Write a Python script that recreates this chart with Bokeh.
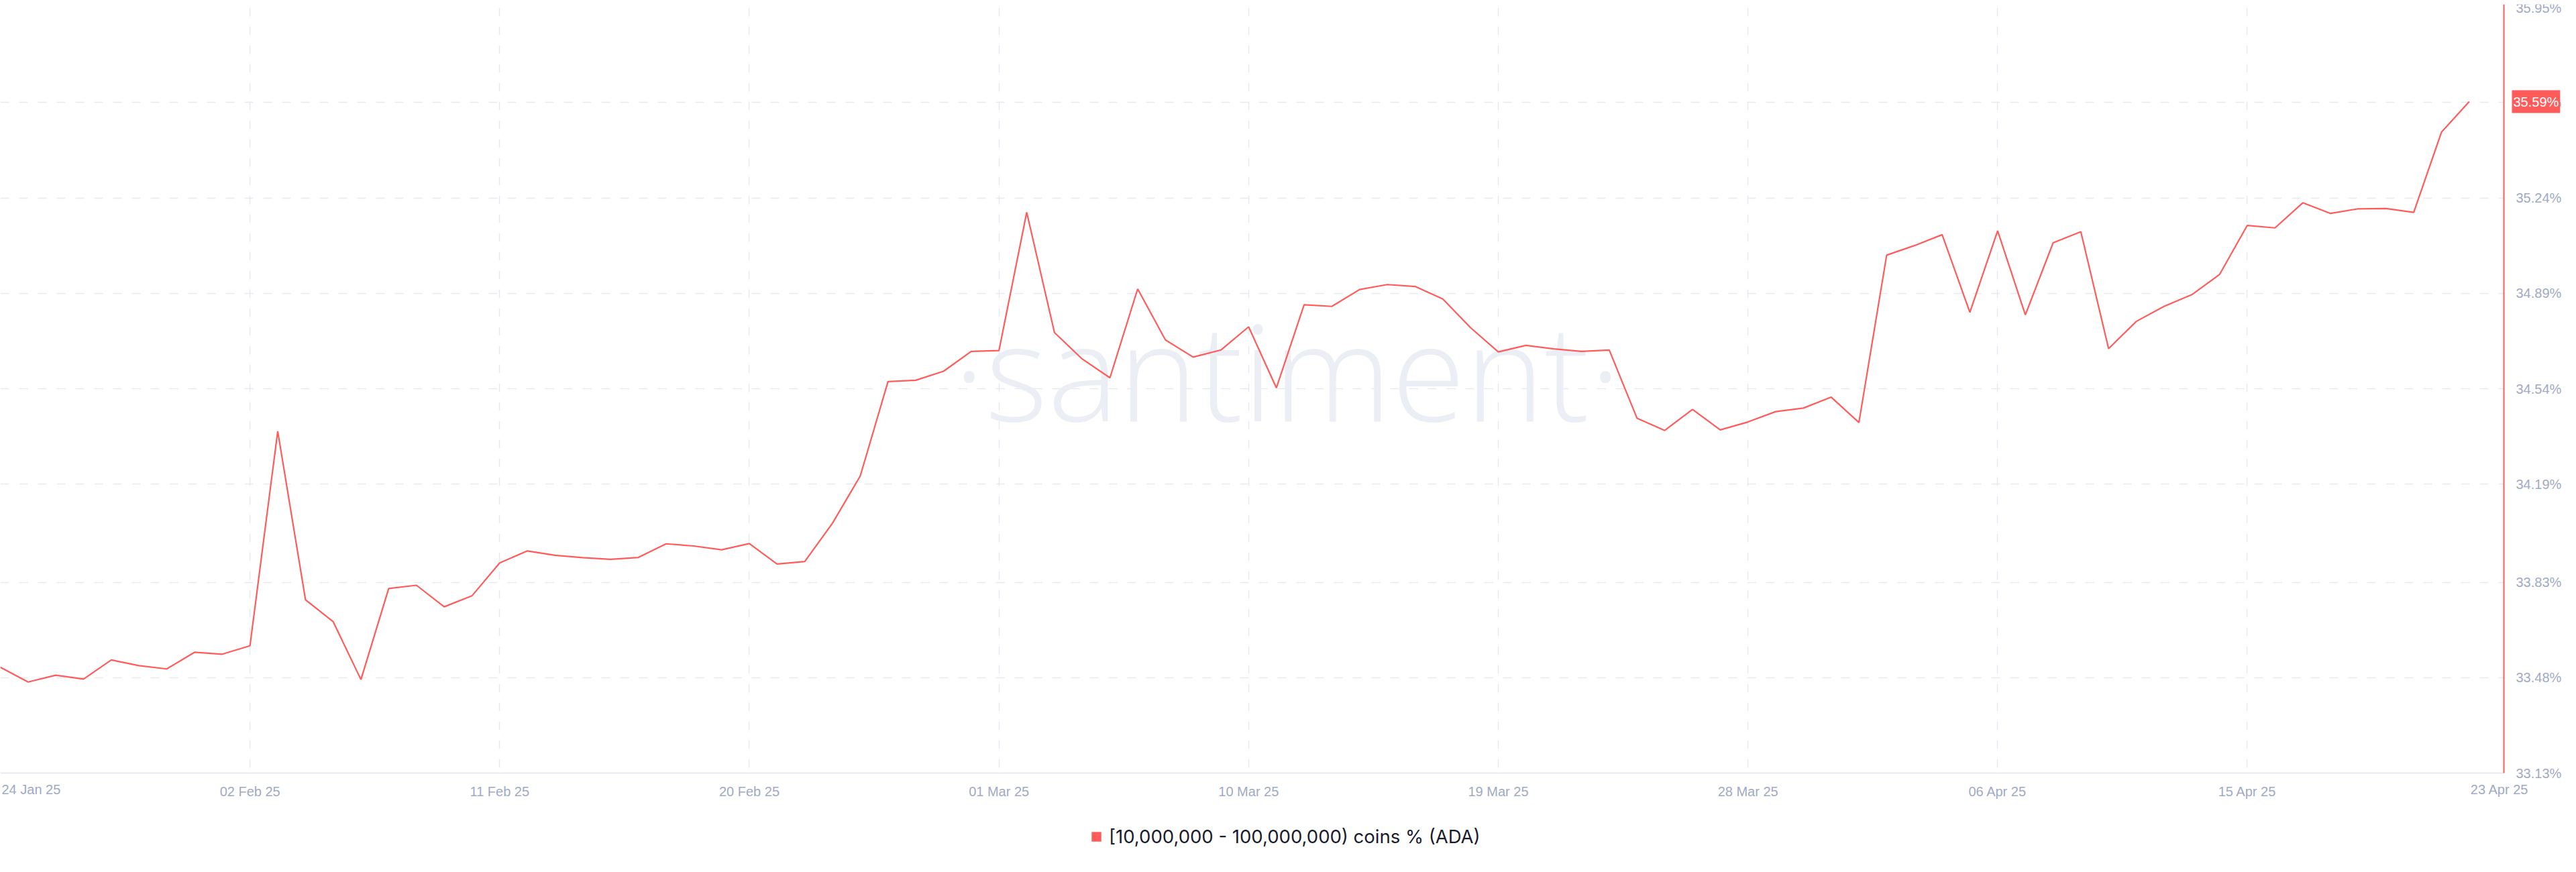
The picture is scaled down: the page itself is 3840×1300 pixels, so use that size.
import pandas as pd
from bokeh.plotting import figure
from bokeh.models import (Range1d, FixedTicker, PrintfTickFormatter, DatetimeTickFormatter,
                          Label, Legend, LegendItem, ColumnDataSource, BoxAnnotation)
from bokeh.embed import file_html
from bokeh.resources import INLINE

# ---------------- data ----------------
start_date = "2025-01-24"
values = [
    33.518, 33.464, 33.489, 33.475, 33.545, 33.524, 33.512, 33.573, 33.566, 33.597,
    34.384, 33.766, 33.685, 33.473, 33.807, 33.819, 33.740, 33.780, 33.901, 33.945,
    33.929, 33.920, 33.914, 33.921, 33.971, 33.963, 33.949, 33.972, 33.897, 33.906,
    34.047, 34.220, 34.566, 34.571, 34.604, 34.677, 34.680, 35.187, 34.746, 34.649,
    34.580, 34.906, 34.719, 34.656, 34.682, 34.767, 34.543, 34.848, 34.842, 34.904,
    34.922, 34.915, 34.869, 34.764, 34.675, 34.699, 34.686, 34.677, 34.682, 34.432,
    34.387, 34.464, 34.389, 34.418, 34.456, 34.469, 34.509, 34.416, 35.030, 35.065,
    35.105, 34.820, 35.119, 34.811, 35.075, 35.116, 34.687, 34.787, 34.842, 34.885,
    34.959, 35.139, 35.130, 35.222, 35.183, 35.200, 35.201, 35.187, 35.481, 35.593,
]
x_tick_labels = ["24 Jan 25", "02 Feb 25", "11 Feb 25", "20 Feb 25", "01 Mar 25",
                 "10 Mar 25", "19 Mar 25", "28 Mar 25", "06 Apr 25", "15 Apr 25", "23 Apr 25"]
y_tick_labels = ["33.13%", "33.48%", "33.83%", "34.19%", "34.54%",
                 "34.89%", "35.24%", "35.59%", "35.95%"]
series_name = "[10,000,000 - 100,000,000) coins % (ADA)"
watermark = "\u00b7santiment\u00b7"

# ---------------- style / layout ----------------
RED = "#ff5b5b"
AXIS_TEXT = "#a0aac4"
GRID = "#e6e9f2"
W, H = 3824, 1284
TOP = 6
PLOT_W = 3732          # width of the data area (up to the red axis)
PLOT_H = 1146          # height of the data area (down to the date axis)
AXIS_DAYS = 90.25      # days shown between the left edge and the red axis
DAY_MS = 86400000.0

dates = pd.date_range(start_date, periods=len(values), freq="D")
src = ColumnDataSource(data=dict(date=dates, value=values))

tick_dates = pd.to_datetime(x_tick_labels, format="%d %b %y")
tick_ms = [ts.value / 1e6 for ts in tick_dates]
y_ticks = [float(s.rstrip("%")) for s in y_tick_labels]

x_start = tick_ms[0]
x_axis_end = x_start + AXIS_DAYS * DAY_MS
x_end = x_start + AXIS_DAYS * DAY_MS * W / PLOT_W
y_per_px = (y_ticks[-1] - y_ticks[0]) / PLOT_H
y_start = y_ticks[0] - (H - TOP - PLOT_H) * y_per_px

p = figure(width=W, height=H, x_axis_type="datetime", y_axis_location="right",
           x_range=Range1d(x_start, x_end), y_range=Range1d(y_start, y_ticks[-1]),
           output_backend="svg", toolbar_location=None,
           min_border_left=0, min_border_right=0, min_border_top=TOP, min_border_bottom=0)
p.outline_line_color = None
p.background_fill_color = "white"
p.border_fill_color = "white"

# watermark
p.add_layout(Label(x=1944, y=734, x_units="screen", y_units="screen", text=watermark,
                   text_align="center", text_baseline="alphabetic", text_font="Open Sans",
                   text_font_size="200px", text_color="#eceef5", level="underlay"))

# grids
p.xgrid.ticker = FixedTicker(ticks=tick_ms[:-1])
p.ygrid.ticker = FixedTicker(ticks=y_ticks[1:])
for g in (p.xgrid, p.ygrid):
    g.grid_line_color = GRID
    g.grid_line_dash = "13 15"
    g.grid_line_width = 1.5

# keep grid lines inside the data area
p.add_layout(BoxAnnotation(left=x_axis_end, fill_color="white", fill_alpha=1,
                           line_alpha=0, level="underlay"))
p.add_layout(BoxAnnotation(top=y_ticks[0], fill_color="white", fill_alpha=1,
                           line_alpha=0, level="underlay"))

# x axis (date axis at the bottom of the data area)
xa = p.xaxis[0]
xa.fixed_location = y_ticks[0]
xa.bounds = (x_start, x_axis_end)
xa.ticker = FixedTicker(ticks=tick_ms[1:-1])
fmt = "%d %b %y"
xa.formatter = DatetimeTickFormatter(milliseconds=fmt, seconds=fmt, minsec=fmt, minutes=fmt,
                                     hourmin=fmt, hours=fmt, days=fmt, months=fmt, years=fmt)
xa.axis_line_color = "#e1e5ee"
xa.axis_line_width = 1.5
xa.major_tick_line_color = None
xa.minor_tick_line_color = None
xa.major_label_standoff = 10
xa.major_label_text_font = "Liberation Sans"
xa.major_label_text_font_size = "20px"
xa.major_label_text_color = AXIS_TEXT

# first and last date labels, aligned to their dates
for ms, txt in ((tick_ms[0], x_tick_labels[0]), (tick_ms[-1], x_tick_labels[-1])):
    p.add_layout(Label(x=ms, y=H - TOP - PLOT_H - 24, x_units="data", y_units="screen",
                       text=txt, text_align="left", text_baseline="middle", x_offset=2,
                       text_font="Liberation Sans", text_font_size="20px",
                       text_color=AXIS_TEXT))

# y axis (red, right of the data area)
ya = p.yaxis[0]
ya.fixed_location = x_axis_end
ya.bounds = (y_ticks[0], y_ticks[-1])
ya.ticker = FixedTicker(ticks=y_ticks)
ya.formatter = PrintfTickFormatter(format="%.2f%%")
ya.axis_line_color = RED
ya.axis_line_width = 2
ya.major_tick_line_color = None
ya.minor_tick_line_color = None
ya.major_label_standoff = 12
ya.major_label_text_font = "Liberation Sans"
ya.major_label_text_font_size = "20px"
ya.major_label_text_color = AXIS_TEXT

# series
p.line(x="date", y="value", source=src, line_color=RED, line_width=2.2)

# current value tag
p.add_layout(Label(x=x_axis_end, y=values[-1], x_units="data", y_units="data", x_offset=12,
                   text=f"{values[-1]:.2f}%", text_align="left", text_baseline="middle",
                   text_font="Liberation Sans", text_font_size="20px", text_color="white",
                   background_fill_color=RED, padding=(2, 6)))

# legend (zero-size quad at the last point, used only for the square swatch)
sw_src = ColumnDataSource(data=dict(l=[dates[-1]], r=[dates[-1]],
                                    t=[values[-1]], b=[values[-1]]))
sq = p.quad(left="l", right="r", top="t", bottom="b", source=sw_src,
            fill_color=RED, line_color=None)
legend = Legend(items=[LegendItem(label=series_name, renderers=[sq])],
                location=(1625, 20), orientation="horizontal",
                glyph_width=18, glyph_height=18, label_standoff=10, padding=0, spacing=0,
                margin=0, border_line_color=None, background_fill_alpha=0,
                label_text_font="Inter", label_text_font_size="27.5px",
                label_text_color="#191c2d")
p.add_layout(legend)

open("out.html", "w").write(file_html(p, INLINE, "chart"))
